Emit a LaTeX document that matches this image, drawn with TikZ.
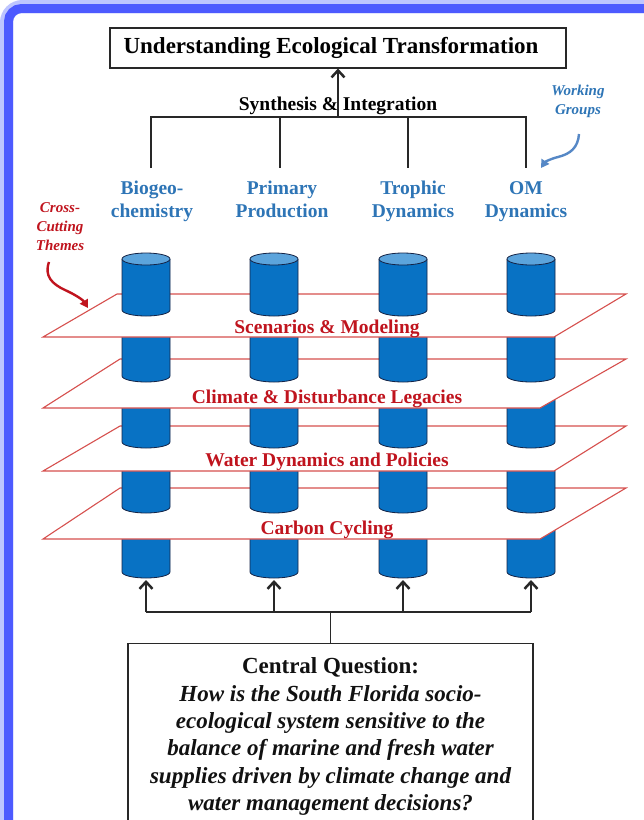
\documentclass[tikz,border=0pt]{standalone}
\usepackage{fontspec}
\setmainfont{Liberation Serif}
\usetikzlibrary{arrows.meta}
\definecolor{framebl}{RGB}{77,90,255}
\definecolor{frameglow}{RGB}{190,197,255}
\definecolor{wgblue}{RGB}{46,117,182}
\definecolor{wgarrowc}{RGB}{86,136,198}
\definecolor{themered}{RGB}{192,20,30}
\definecolor{planered}{RGB}{214,80,78}
\definecolor{cylfill}{RGB}{8,114,196}
\definecolor{cyltop}{RGB}{92,164,220}
\definecolor{cylline}{RGB}{20,35,70}
\definecolor{treeline}{RGB}{40,40,40}
\newcommand\cylseg[3]{%
  \fill[cylfill] (#1-24,#2) -- (#1-24,#3) arc[start angle=180,end angle=0,x radius=24,y radius=6] -- (#1+24,#2) -- cycle;
  \draw[cylline,line width=0.8pt] (#1-24,#2) -- (#1-24,#3) arc[start angle=180,end angle=0,x radius=24,y radius=6] -- (#1+24,#2);
}
\begin{document}
\begin{tikzpicture}[x=1pt,y=-1pt,
  wglabel/.style={font=\fontsize{19.5}{23}\selectfont\bfseries, text=wgblue, align=center, inner sep=0pt},
  planelabel/.style={font=\fontsize{19.5}{23}\selectfont\bfseries, text=themered, inner sep=0pt, anchor=base},
  plane/.style={draw=planered, line width=1.1pt, fill=white, line join=miter},
  tree/.style={draw=treeline, line width=1.1pt},
  uparrow/.style={tree, -{Straight Barb[length=7pt,width=13pt,line width=2.5pt]}},
  notefont/.style={font=\fontsize{15}{19}\selectfont\bfseries\itshape, align=center, inner sep=0pt},
  curvyarrow/.style={line width=2.4pt, -{Triangle[length=8pt,width=9pt]}}
]
\useasboundingbox (0,0) rectangle (644,820);
\begin{scope}
\clip (0,0) rectangle (644,820);
% frame
\draw[frameglow, line width=13pt, rounded corners=16pt] (6.5,6.5) rectangle (760,900);
\draw[framebl, line width=9pt, rounded corners=13pt] (8.5,8.5) rectangle (760,900);

% title and synthesis
\node[draw=treeline, line width=1.1pt, minimum width=456pt, minimum height=40pt, inner sep=0pt] (title) at (338,48) {};
\node[font=\fontsize{23}{26}\selectfont\bfseries, inner sep=0pt] (titletext) at (331,48) {Understanding Ecological Transformation};
\node[font=\fontsize{19.5}{23}\selectfont\bfseries, inner sep=0pt, anchor=base] (synth) at (338,110) {Synthesis \& Integration};
\coordinate (hub) at (338,117);
\coordinate (t1) at (151,117); \coordinate (t2) at (280,117);
\coordinate (t3) at (408,117); \coordinate (t4) at (526,117);
\coordinate (d1) at (151,168); \coordinate (d2) at (280,168);
\coordinate (d3) at (408,168); \coordinate (d4) at (526,168);
\draw[tree] (d1) -- (t1) -- (t4) -- (d4);
\draw[tree] (t2) -- (d2);
\draw[tree] (t3) -- (d3);
\draw[uparrow] (hub) -- (title.south);

% working group labels
\node[wglabel] (wg1) at (152,201) {\strut Biogeo-\\\strut chemistry};
\node[wglabel] (wg2) at (282,201) {\strut Primary\\\strut Production};
\node[wglabel] (wg3) at (413,201) {\strut Trophic\\\strut Dynamics};
\node[wglabel] (wg4) at (526,201) {\strut OM\\\strut Dynamics};

% notes
\node[notefont, text=wgblue] (wgnote) at (578,101) {Working\\Groups};
\node[notefont, text=themered] (ccnote) at (60,227) {Cross-\\Cutting\\Themes};
\coordinate (wga) at (579,134); \coordinate (wgb) at (541,168);
\draw[curvyarrow, wgarrowc] (wga) .. controls (578,148) and (570,154) .. (558,157) .. controls (550,159) and (545,162) .. (wgb);
\coordinate (cca) at (49,262); \coordinate (ccb) at (88,308);
\draw[curvyarrow, themered] (cca) .. controls (44,276) and (52,284) .. (65,290) .. controls (76,295) and (83,300) .. (ccb);

% cylinders and planes, back to front
\foreach \cx in {146,274,403,531} {\cylseg{\cx}{494}{572}}
\draw[plane] (120,488) -- (626,488) -- (540,539) -- (43,539) -- cycle;
\node[planelabel] (th4) at (327,534) {Carbon Cycling};
\foreach \cx in {146,274,403,531} {\cylseg{\cx}{432}{507}}
\draw[plane] (120,426) -- (626,426) -- (554,471) -- (43,471) -- cycle;
\node[planelabel] (th3) at (327,466) {Water Dynamics and Policies};
\foreach \cx in {146,274,403,531} {\cylseg{\cx}{365}{442}}
\draw[plane] (120,359) -- (626,359) -- (540,408) -- (43,408) -- cycle;
\node[planelabel] (th2) at (327,403) {Climate \& Disturbance Legacies};
\foreach \cx in {146,274,403,531} {\cylseg{\cx}{300}{376}}
\draw[plane] (117,294) -- (626,294) -- (554,337) -- (43,337) -- cycle;
\node[planelabel] (th1) at (327,333) {Scenarios \& Modeling};
\foreach \cx in {146,274,403,531} {
  \cylseg{\cx}{259}{310}
  \draw[cylline, line width=0.8pt, fill=cyltop] (\cx,259) ellipse[x radius=24, y radius=6];
}

% bottom connectors
\coordinate (c1) at (146,580); \coordinate (c2) at (274,580);
\coordinate (c3) at (403,580); \coordinate (c4) at (531,580);
\coordinate (b1) at (146,612); \coordinate (b2) at (274,612);
\coordinate (b3) at (403,612); \coordinate (b4) at (531,612);
\coordinate (hub2) at (330.5,612);
\draw[tree] (b1) -- (b4);
\foreach \i in {1,2,3,4} {\draw[uparrow] (b\i) -- (c\i);}

% central question box
\node[draw=treeline, line width=1.1pt, minimum width=405pt, minimum height=200pt, anchor=north, inner sep=0pt] (qbox) at (330.5,643) {};
\draw[tree] (qbox.north) -- (hub2);
\node[anchor=north, align=center, inner sep=0pt, text={rgb,255:red,17;green,17;blue,17},
      font=\fontsize{23}{27.4}\selectfont\bfseries] (qtext) at (330.5,657.5)
  {Central Question:\\
   \itshape How is the South Florida socio-\\
   \itshape ecological system sensitive to the\\
   \itshape balance of marine and fresh water\\
   \itshape supplies driven by climate change and\\
   \itshape water management decisions?};
\end{scope}
\end{tikzpicture}
\end{document}
